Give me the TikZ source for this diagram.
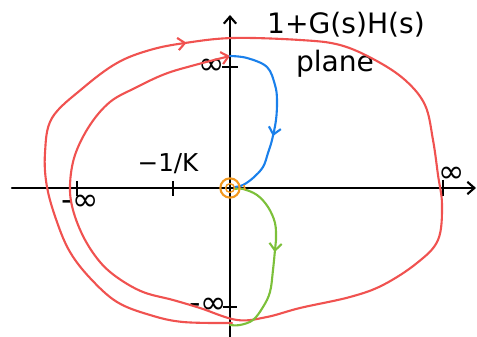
\documentclass[tikz,border=0pt]{standalone}
\usepackage{fontspec}
\setmainfont{DejaVu Sans}
\usepackage{xcolor}
\usetikzlibrary{arrows.meta, decorations.markings, calc}
\definecolor{nyqred}{RGB}{240,82,80}
\definecolor{nyqblue}{RGB}{26,128,235}
\definecolor{nyqgreen}{RGB}{124,192,58}
\definecolor{nyqorange}{RGB}{243,152,30}
\tikzset{
  axisline/.style={line width=1.2pt, black, line cap=round},
  ticks/.style={line width=1.2pt, black},
  lbl/.style={font=\fontsize{14}{16}\selectfont, inner sep=0pt},
  inflbl/.style={font=\fontsize{18}{20}\selectfont, inner sep=0pt},
  title/.style={font=\fontsize{16}{19}\selectfont, inner sep=0pt},
  curve/.style={line width=1.2pt, line cap=round, line join=round},
  barb/.style={-{Straight Barb[length=4pt, width=7pt]}},
  midarrow/.style={postaction={decorate}, decoration={markings,
      mark=at position #1 with {\arrow{Straight Barb[length=4pt, width=7pt]}}}}
}
\begin{document}
\begin{tikzpicture}[x=0.02cm, y=-0.02cm]
\useasboundingbox (0,0) rectangle (477,337);

% axes
\coordinate (xl) at (12,188);
\coordinate (xr) at (476,188);
\coordinate (yb) at (230,340);
\coordinate (yt) at (230,15);
\coordinate (o) at (230,188);
\draw[axisline, barb] (xl) -- (xr);
\draw[axisline, barb] (yb) -- (yt);

% ticks
\coordinate (tyinf) at (230,67);
\coordinate (tyminf) at (230,307);
\coordinate (txminf) at (77,188);
\coordinate (txk) at (173,188);
\coordinate (txinf) at (443,188);
\draw[ticks] ($(tyinf)+(-8,0)$) -- ($(tyinf)+(8,0)$);
\draw[ticks] ($(tyminf)+(-7,0)$) -- ($(tyminf)+(7,0)$);
\draw[ticks] ($(txminf)+(0,-7)$) -- ($(txminf)+(0,8)$);
\draw[ticks] ($(txk)+(0,-7)$) -- ($(txk)+(0,8)$);
\draw[ticks] ($(txinf)+(0,-8)$) -- ($(txinf)+(0,8)$);

% labels
\node[inflbl] (lyinf) at (212,67) {∞};
\node[inflbl] (lyminf) at (208,306) {-∞};
\node[inflbl] (lxminf) at (80,203) {-∞};
\node[lbl] (lxk) at (168,164) {−1/K};
\node[inflbl] (lxinf) at (452,175) {∞};
\node[title] (plane1) at (346,25) {1+G(s)H(s)};
\node[title] (plane2) at (335,64) {plane};

% mapped contour at infinity (red)
\draw[curve, nyqred, barb, midarrow=0.31] plot[smooth, tension=0.6] coordinates {
  (232,323) (183,322) (150,315) (117,302) (90,278) (70,252) (57,222)
  (47,187) (45,153) (52,118) (83,88) (117,63) (150,50) (185,43) (233,38)
  (300,40) (340,45) (375,60) (405,80) (425,105) (433,140) (438,175)
  (442,205) (438,240) (417,263) (383,285) (350,297) (300,308) (267,317)
  (237,320) (200,308) (173,300) (143,292) (118,278) (100,262) (84,238)
  (73,210) (70,185) (75,155) (90,125) (110,102) (135,88) (165,74)
  (195,65) (230,56)};

% positive imaginary axis (blue)
\draw[curve, nyqblue, midarrow=0.62] plot[smooth, tension=0.6] coordinates {
  (230,56) (247,58) (267,67) (275,85) (277,100) (276,120) (272,140)
  (268,153) (263,167) (253,178) (243,185) (235,187)};

% negative imaginary axis (green)
\draw[curve, nyqgreen, midarrow=0.47] plot[smooth, tension=0.6] coordinates {
  (235,189) (243,189) (257,195) (268,207) (275,223) (276,240) (275,250)
  (273,270) (270,292) (263,307) (253,320) (240,325) (230,325)};

% origin
\node[circle, draw=nyqorange, line width=1.2pt, minimum size=11pt, inner sep=0pt] (orig) at (o) {};
\node[circle, draw=nyqorange, line width=0.8pt, minimum size=5pt, inner sep=0pt] (origin) at (o) {};
\draw[nyqorange, line width=1pt] (244,185) -- (245,190);
\end{tikzpicture}
\end{document}
